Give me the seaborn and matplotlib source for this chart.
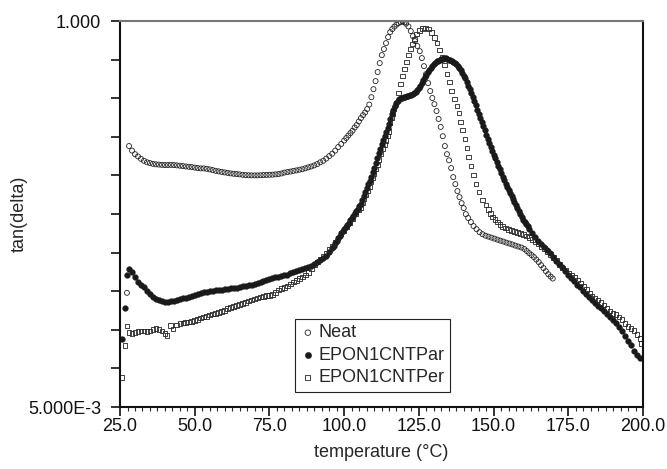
import numpy as np
import pandas as pd
import seaborn as sns
import matplotlib.pyplot as plt
from matplotlib.ticker import FixedLocator, MultipleLocator, NullLocator

# tan(delta) vs temperature

neat_temp = [27.3, 28, 29, 30, 31, 32, 33, 34, 35, 36, 37, 38, 39, 40, 41, 42, 43, 44, 45, 46,
             47, 48, 49, 50, 51, 52, 53, 54, 55, 56, 57, 58, 59, 60, 61, 62, 63, 64, 65, 66,
             67, 68, 69, 70, 71, 72, 73, 74, 75, 76, 77, 78, 79, 80, 81, 82, 83, 84, 85, 86,
             87, 88, 89, 90, 91, 92, 93, 94, 95, 96, 97, 98, 99,
             100, 100.7, 101.4, 102.1, 102.8, 103.5, 104.2, 104.9, 105.6, 106.3, 107, 107.7,
             108.4, 109.1, 109.8, 110.5, 111.2, 111.9, 112.6, 113.3, 114, 114.7, 115.4, 116.1,
             116.8, 117.5, 118.2, 118.9, 119.6, 120.2, 120.7, 121.5, 122.3, 123, 123.7, 124.5,
             125.3, 126, 126.7, 127.4, 128.1, 128.8, 129.5, 130.2, 130.9, 131.6, 132.3, 133,
             133.7, 134.4, 135.1, 135.8, 136.5, 137.2, 137.9, 138.6, 139.3, 140, 140.7, 141.5,
             142.4, 143.3, 144.3, 145.3, 146.3, 147.3, 148.3, 149.3, 150.3, 151.3, 152.3, 153.3,
             154.3, 155.3, 156.3, 157.3, 158.3, 159.3, 160.3, 161.1, 161.9, 162.7, 163.5, 164.3,
             165.1, 165.9, 166.7, 167.5, 168.3, 169.1, 169.8]
neat_tan = [0.024, 0.180, 0.169, 0.161, 0.156, 0.151, 0.147, 0.144, 0.1425, 0.141, 0.140, 0.1395,
            0.139, 0.1386, 0.1386, 0.139, 0.1386, 0.138, 0.1374, 0.1367, 0.136, 0.1354, 0.1348,
            0.1339, 0.133, 0.1324, 0.1324, 0.1317, 0.1306, 0.1294, 0.1281, 0.1271, 0.1262, 0.1253,
            0.1245, 0.1236, 0.123, 0.1225, 0.122, 0.1213, 0.1208, 0.1205, 0.1203, 0.1203, 0.1203,
            0.1205, 0.1208, 0.1211, 0.1213, 0.1215, 0.122, 0.1225, 0.1235, 0.125, 0.126, 0.1268,
            0.128, 0.1288, 0.130, 0.131, 0.1326, 0.1343, 0.136, 0.138, 0.1405, 0.144, 0.147,
            0.1515, 0.1567, 0.162, 0.169, 0.1775, 0.185,
            0.194, 0.201, 0.208, 0.215, 0.222, 0.232, 0.240, 0.252, 0.264, 0.275, 0.285, 0.299,
            0.318, 0.352, 0.393, 0.439, 0.497, 0.562, 0.627, 0.681, 0.739, 0.803, 0.860, 0.896,
            0.927, 0.953, 0.973, 0.986, 0.995, 0.985, 0.965, 0.93, 0.872, 0.814, 0.760, 0.710,
            0.662, 0.602, 0.539, 0.483, 0.427, 0.383, 0.348, 0.320, 0.291, 0.261, 0.234, 0.206,
            0.180, 0.161, 0.148, 0.133, 0.1175, 0.1067, 0.0970, 0.0893, 0.0822, 0.0768, 0.0707,
            0.0670, 0.0634, 0.060, 0.0575, 0.0552, 0.0537, 0.0526, 0.0519, 0.0512, 0.0505, 0.0498,
            0.0491, 0.0485, 0.0478, 0.0472, 0.0466, 0.0459, 0.0453, 0.0447, 0.0438, 0.0426,
            0.0414, 0.0403, 0.0392, 0.0379, 0.0366, 0.0351, 0.0337, 0.0323, 0.0310, 0.030, 0.0292]

par_temp = [25.7, 26.7, 27.3, 28.1, 29.1, 30, 31, 32, 33, 34, 35, 36, 37, 38, 39, 40, 41, 42, 43,
            44, 45, 46, 47, 48, 49, 50, 51, 52, 53, 54, 55, 56, 57, 58, 59, 60, 61, 62, 63, 64,
            65, 66, 67, 68, 69, 70, 71, 72, 73, 74, 75, 76, 77, 78, 79, 80, 81, 82, 83, 84, 85,
            86, 87, 88, 89, 90, 91, 92, 93, 94, 95, 96,
            96.5, 97, 97.5, 98, 98.5, 99, 99.5, 100, 100.5, 101, 101.5, 102, 102.5, 103, 103.5,
            104, 104.5, 105, 105.5, 106, 106.5, 107, 107.5, 108, 108.5, 109, 109.5, 110, 110.5,
            111, 111.5, 112, 112.5, 113, 113.5, 114, 114.5, 115, 115.5, 116, 116.5, 117, 117.5,
            118, 118.5, 119, 119.5, 120, 120.5, 121, 121.5, 122, 122.5, 123, 123.5, 124, 124.5,
            125, 125.5, 126, 126.5, 127, 127.5, 128, 128.5, 129, 129.5, 130, 130.5, 131, 131.5,
            132, 132.5, 133, 133.5, 134, 134.5, 135, 135.5, 136, 136.5, 137, 137.5, 138, 138.5,
            139, 139.5, 140, 140.5, 141, 141.5, 142, 142.5, 143, 143.5, 144, 144.5, 145, 145.5,
            146, 146.5, 147, 147.5, 148, 148.5, 149, 149.5, 150, 150.5, 151, 151.5, 152, 152.5,
            153, 153.5, 154, 154.5, 155, 155.5, 156, 156.5, 157, 157.5, 158, 158.5, 159, 159.5,
            160, 160.5, 161, 161.5, 162,
            163, 164, 165, 166, 167, 168, 169, 170, 171, 172, 173, 174, 175, 176, 177, 178, 179,
            180, 181, 182, 183, 184, 185, 186, 187, 188, 189, 190, 191, 192, 193, 194, 195, 196,
            197, 198, 199]
par_tan = [0.0127, 0.0196, 0.0305, 0.0332, 0.0321, 0.030, 0.028, 0.0267, 0.0259, 0.0247, 0.0235,
           0.0226, 0.0220, 0.0216, 0.0214, 0.0213, 0.0213, 0.0214, 0.0215, 0.0217, 0.0220, 0.0222,
           0.0225, 0.0228, 0.0231, 0.0234, 0.0237, 0.0240, 0.0242, 0.0244, 0.0246, 0.0247, 0.0248,
           0.0249, 0.0251, 0.0252, 0.0253, 0.0255, 0.0256, 0.0258, 0.026, 0.0262, 0.0264, 0.0266,
           0.0268, 0.027, 0.0274, 0.0277, 0.0281, 0.0285, 0.0289, 0.0294, 0.0297, 0.030, 0.0302,
           0.0305, 0.0308, 0.0314, 0.032, 0.0325, 0.033, 0.0335, 0.0339, 0.0343, 0.0348, 0.0355,
           0.0365, 0.0376, 0.0387, 0.0398, 0.042, 0.0445,
           0.0458, 0.0475, 0.0491, 0.0508, 0.0526, 0.0545, 0.0564, 0.0575, 0.0596, 0.0612, 0.0629,
           0.0651, 0.0670, 0.0691, 0.0714, 0.0737, 0.0762, 0.0789, 0.0817, 0.0857, 0.0905, 0.0957,
           0.101, 0.1067, 0.112, 0.1183, 0.1253, 0.1336, 0.143, 0.1525, 0.1633, 0.1733, 0.1845,
           0.1963, 0.207, 0.2183, 0.230, 0.245, 0.262, 0.279, 0.2946, 0.310, 0.324, 0.336, 0.344,
           0.348, 0.350, 0.352, 0.355, 0.357, 0.360, 0.362, 0.365, 0.367, 0.372, 0.380, 0.388,
           0.399, 0.413, 0.428, 0.445, 0.462, 0.479, 0.497, 0.513, 0.527, 0.543, 0.557, 0.566,
           0.575, 0.582, 0.589, 0.594, 0.597, 0.599, 0.599, 0.597, 0.590, 0.584, 0.578, 0.572,
           0.566, 0.558, 0.543, 0.525, 0.508, 0.490, 0.473, 0.456, 0.433, 0.412, 0.392, 0.372,
           0.354, 0.334, 0.314, 0.296, 0.278, 0.2635, 0.250, 0.236, 0.223, 0.2104, 0.1988, 0.188,
           0.178, 0.169, 0.160, 0.1523, 0.145, 0.1377, 0.1309, 0.1244, 0.1183, 0.1127, 0.1074,
           0.1024, 0.0984, 0.0944, 0.0905, 0.0864, 0.0830, 0.0797, 0.0764, 0.0734, 0.0705, 0.0676,
           0.0654, 0.0634, 0.0616, 0.0598, 0.0580,
           0.0543, 0.0514, 0.0492, 0.0471, 0.0451, 0.0432, 0.0413, 0.0392, 0.0373, 0.0357, 0.0342,
           0.0325, 0.0308, 0.0294, 0.0282, 0.0269, 0.0259, 0.0247, 0.0236, 0.0227, 0.0217, 0.0209,
           0.0201, 0.0194, 0.0187, 0.0180, 0.0172, 0.0166, 0.0158, 0.0151, 0.0142, 0.0133, 0.01247,
           0.01167, 0.01086, 0.0102, 0.0098]

per_temp = [25.4, 26.6, 27.3, 28, 29, 30, 31, 32, 33, 34, 35, 36, 37, 38, 39, 40, 40.7, 41.8,
            42.7, 43.8, 45, 46, 47, 48, 49, 50, 51, 52, 53, 54, 55, 56, 57, 58, 59, 60, 61, 62,
            63, 64, 65, 66, 67, 68, 69, 70, 71, 72, 73, 74, 75, 76, 77, 78, 79, 80, 81, 82, 83,
            84, 85, 86, 87, 88, 89, 90, 91, 92, 93, 94, 95, 96, 97, 98, 99, 100, 101, 102, 103,
            104, 105, 105.6, 106.2, 106.7, 107.3, 107.8, 108.4, 108.9, 109.5, 110, 110.6, 111.2,
            111.7, 112.3, 112.9, 113.5, 114, 114.4, 114.8, 115.4, 115.8, 116.2, 116.7, 117.3,
            118.1, 118.8, 119.5, 120.2, 120.8, 121.5, 122.2, 122.8, 123.5, 124.3, 125.3, 126.3,
            127.3, 128.3, 129.3, 130.2, 131, 131.9, 132.7, 133.5, 134.4, 135.2, 136, 136.9, 137.7,
            138.4, 139, 139.7, 140.4, 141.1, 141.7, 142.4, 143.2, 144.1, 145.1, 146.2, 147.4,
            148.2, 148.9, 149.7, 150.5, 151.3, 152.1, 153, 154, 155, 156, 157, 158, 159, 160, 161,
            162, 163, 164, 165, 166, 167, 168, 169, 170, 171, 172, 173, 174, 175, 176, 177, 178,
            179, 180, 181, 182, 183, 184, 185, 186, 187, 188, 189, 190, 191, 192, 193, 194, 195,
            196, 197, 198, 199, 199.6]
per_tan = [0.00748, 0.0116, 0.0152, 0.0139, 0.0137, 0.0139, 0.0141, 0.0142, 0.0142, 0.0141,
           0.0142, 0.0145, 0.0147, 0.0145, 0.0142, 0.0137, 0.0134, 0.0153, 0.0146, 0.0154, 0.0158,
           0.0159, 0.0160, 0.0161, 0.0162, 0.0164, 0.0167, 0.0170, 0.0172, 0.0174, 0.0177, 0.0179,
           0.0181, 0.0183, 0.0185, 0.0189, 0.0193, 0.0196, 0.0199, 0.0202, 0.0205, 0.0208, 0.0211,
           0.0214, 0.0218, 0.0221, 0.0224, 0.0227, 0.0229, 0.0231, 0.0232, 0.0234, 0.0242, 0.0250,
           0.0255, 0.0259, 0.0264, 0.0271, 0.0278, 0.0285, 0.0292, 0.0299, 0.0307, 0.0317, 0.0334,
           0.0352, 0.0366, 0.0381, 0.0397, 0.0413, 0.0435, 0.0455, 0.0482, 0.051, 0.054, 0.0565,
           0.0596, 0.0630, 0.0668, 0.0712, 0.0752, 0.0777, 0.0825, 0.0868, 0.092, 0.097, 0.1025,
           0.110, 0.1165, 0.1236, 0.131, 0.1386, 0.149, 0.161, 0.174, 0.184, 0.195, 0.207, 0.219,
           0.248, 0.265, 0.282, 0.302, 0.324, 0.372, 0.421, 0.470, 0.518, 0.570, 0.627, 0.681,
           0.729, 0.781, 0.837, 0.878, 0.902, 0.911, 0.896, 0.854, 0.797, 0.740, 0.671, 0.610,
           0.547, 0.483, 0.433, 0.383, 0.343, 0.311, 0.283, 0.250, 0.224, 0.198, 0.175, 0.1546,
           0.1367, 0.1208, 0.1067, 0.0957, 0.0857, 0.080, 0.0755, 0.0713, 0.068, 0.0655, 0.0633,
           0.0612, 0.0597, 0.0584, 0.0574, 0.0564, 0.0556, 0.0549, 0.0542, 0.0534, 0.0524, 0.0513,
           0.0499, 0.0486, 0.047, 0.0455, 0.0442, 0.0424, 0.0407, 0.039, 0.0375, 0.0354, 0.0338,
           0.0328, 0.0315, 0.0304, 0.0295, 0.0286, 0.0275, 0.0262, 0.0252, 0.0238, 0.0229, 0.0224,
           0.0217, 0.0211, 0.0203, 0.0193, 0.0187, 0.0181, 0.0178, 0.0172, 0.0166, 0.0158, 0.0151,
           0.0147, 0.0143, 0.0135, 0.0128, 0.0120]

neat = pd.DataFrame({'temp': neat_temp, 'tan': neat_tan})
par = pd.DataFrame({'temp': par_temp, 'tan': par_tan})
per = pd.DataFrame({'temp': per_temp, 'tan': per_tan})

sns.set_style('ticks')
plt.rcParams['font.family'] = ['Liberation Sans', 'DejaVu Sans']

fig = plt.figure(figsize=(6.67, 4.69), dpi=100)
ax = fig.add_axes([0.18, 0.132, 0.784, 0.823])

sns.scatterplot(data=neat, x='temp', y='tan', ax=ax, marker='o', s=13,
                facecolor='none', edgecolor='#222222', linewidth=0.6, label='Neat')
sns.scatterplot(data=par, x='temp', y='tan', ax=ax, marker='o', s=17,
                color='#1a1a1a', edgecolor='#1a1a1a', linewidth=0.3, label='EPON1CNTPar')
sns.scatterplot(data=per, x='temp', y='tan', ax=ax, marker='s', s=11,
                facecolor='none', edgecolor='#222222', linewidth=0.6, label='EPON1CNTPer')

ax.set_yscale('log')
ax.set_xlim(25, 200)
ax.set_ylim(0.005, 1.0)

# eleven evenly spaced (log) ticks, only the ends labelled
yt = np.logspace(np.log10(0.005), 0, 11)
ax.yaxis.set_major_locator(FixedLocator(yt))
ax.yaxis.set_minor_locator(NullLocator())
ax.set_yticklabels(['5.000E-3'] + [''] * 9 + ['1.000'])
ax.xaxis.set_major_locator(MultipleLocator(25))
ax.xaxis.set_minor_locator(MultipleLocator(2.5))
ax.xaxis.set_major_formatter(plt.FuncFormatter(lambda v, p: f'{v:.1f}'))

ax.tick_params(axis='both', which='major', direction='out', length=6.5, width=1.2,
               labelsize=13, colors='#111111')
ax.tick_params(axis='y', which='major', pad=7)
ax.tick_params(axis='x', which='major', pad=1)
ax.tick_params(axis='x', which='minor', direction='out', length=3, width=0.8)

for side in ['left', 'bottom', 'right']:
    ax.spines[side].set_color('#111111')
    ax.spines[side].set_linewidth(1.5)
ax.spines['top'].set_color('#777777')
ax.spines['top'].set_linewidth(1.5)

ax.set_xlabel('temperature (°C)', fontsize=13, labelpad=7)
ax.set_ylabel('tan(delta)', fontsize=13, labelpad=0)

leg = ax.legend(loc='lower left', bbox_to_anchor=(0.335, 0.04), borderaxespad=0,
                frameon=True, fancybox=False, framealpha=1, edgecolor='#222222',
                fontsize=13, handletextpad=0.2, handlelength=0.8, labelspacing=0.3,
                borderpad=0.3, markerscale=1.1)
leg.get_frame().set_linewidth(0.8)

fig.savefig('out.png', dpi=100)
